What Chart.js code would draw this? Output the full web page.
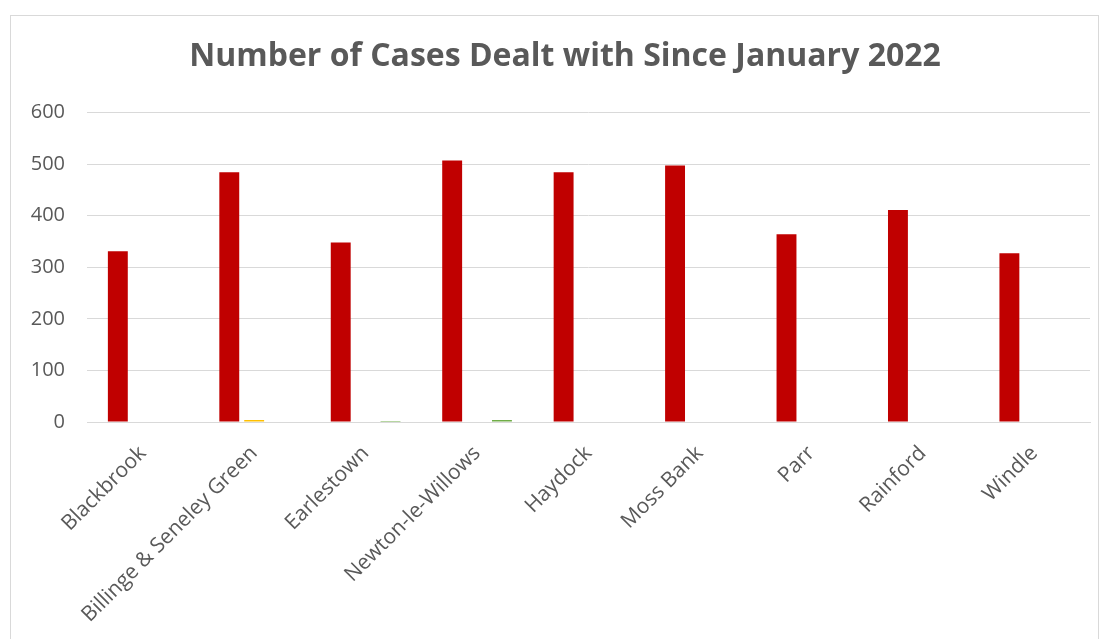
<!DOCTYPE html>
<html>
<head>
<meta charset="utf-8">
<script src="https://cdn.jsdelivr.net/npm/chart.js@4"></script>
<style>
html,body{margin:0;padding:0;background:#fff;width:1109px;height:639px;overflow:hidden;}
#frame{position:absolute;left:10px;top:15px;width:1089px;height:640px;border:1px solid #d9d9d9;box-sizing:border-box;}
#wrap{position:absolute;left:0;top:0;width:1109px;height:639px;}
</style>
</head>
<body>
<div id="frame"></div>
<div id="wrap"><canvas id="c" width="1109" height="639"></canvas></div>
<script>
const categories = ["Blackbrook","Billinge & Seneley Green","Earlestown","Newton-le-Willows","Haydock","Moss Bank","Parr","Rainford","Windle"];
const seriesRed = [331,484,348,507,484,497,364,411,327];
const seriesYellow = [1,4,1,1,0,0,0,0,0];
const seriesGreen = [1,1,2,4,0,0,0,0,0];
const yTicks = [0,100,200,300,400,500,600];
const titleText = "Number of Cases Dealt with Since January 2022";

const fontFam = "'Open Sans', 'Noto Sans', sans-serif";
const shiftTitle = {
  id:'shiftTitle',
  afterLayout(chart){
    const t = chart.titleBlock;
    if (t) { t.left += 10; t.right += 10; }
  }
};
new Chart(document.getElementById('c'), {
  type: 'bar',
  data: {
    labels: categories,
    datasets: [
      {label:'A', data: seriesRed, backgroundColor:'#C00000', categoryPercentage:0.67, barPercentage:0.8},
      {label:'B', data: seriesYellow, backgroundColor:'#FFC000', categoryPercentage:0.67, barPercentage:0.8},
      {label:'C', data: seriesGreen, backgroundColor:'#70AD47', categoryPercentage:0.67, barPercentage:0.8}
    ]
  },
  plugins:[shiftTitle],
  options: {
    responsive:false,
    animation:false,
    layout:{padding:{left:20,right:19,top:0,bottom:0}},
    plugins:{
      legend:{display:false},
      tooltip:{enabled:false},
      title:{display:true,text:titleText,color:'#595959',font:{family:fontFam,size:32,weight:'bold'},padding:{top:38,bottom:36}}
    },
    scales:{
      x:{
        grid:{display:false,drawTicks:false},
        border:{color:'#d9d9d9',width:1},
        ticks:{color:'#595959',font:{family:fontFam,size:21},maxRotation:45,minRotation:45,padding:19},
        afterFit(s){s.height=217;}
      },
      y:{
        min:0,max:600,
        afterBuildTicks(s){s.ticks=yTicks.map(v=>({value:v}));},
        grid:{color:'#d9d9d9',drawTicks:false},
        border:{display:false},
        ticks:{color:'#595959',font:{family:fontFam,size:20},padding:22},
        afterFit(s){s.width=67;}
      }
    }
  }
});
</script>
</body>
</html>
